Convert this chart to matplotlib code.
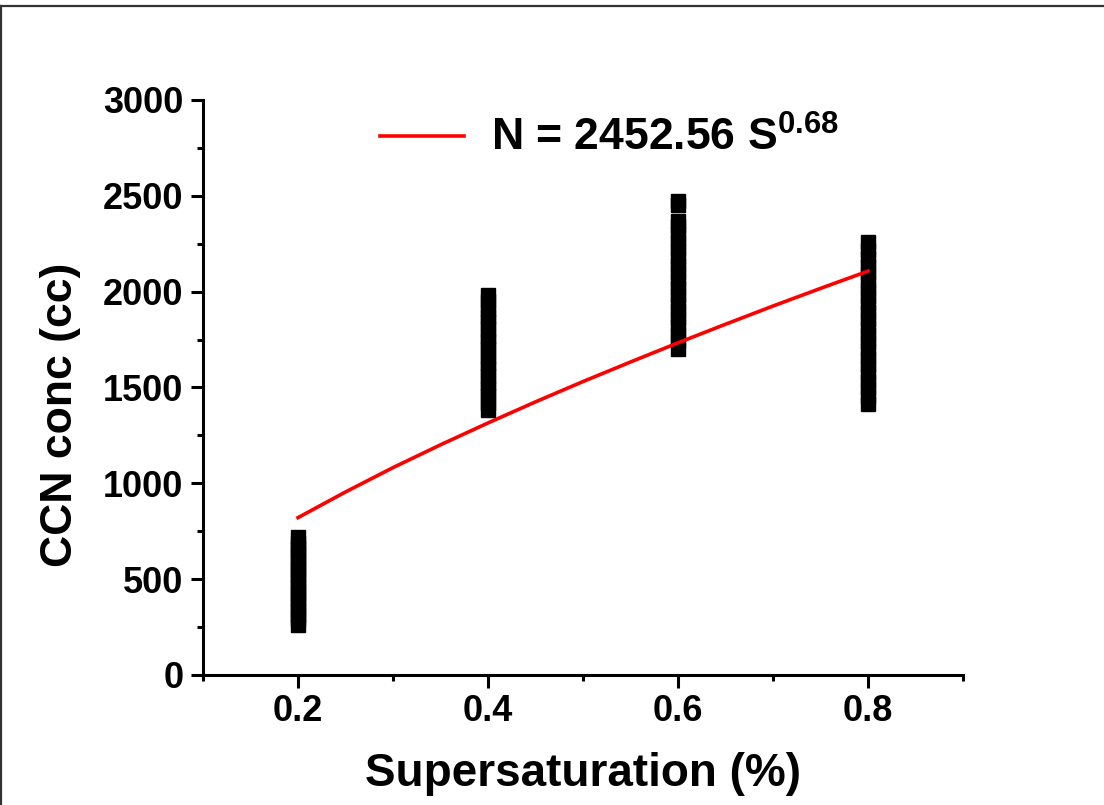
import matplotlib
matplotlib.use('Agg')
import matplotlib.pyplot as plt
from matplotlib.lines import Line2D
from matplotlib.ticker import MultipleLocator

plt.rcParams['font.family'] = 'Liberation Sans'
plt.rcParams['font.weight'] = 'bold'
plt.rcParams['mathtext.fontset'] = 'custom'
plt.rcParams['mathtext.rm'] = 'Liberation Sans:bold'
plt.rcParams['mathtext.bf'] = 'Liberation Sans:bold'
plt.rcParams['mathtext.default'] = 'bf'

# CCN measurements at each supersaturation (%)
ccn_02 = [262, 290, 315, 340, 365, 390, 415, 440, 465, 490, 515, 540, 565, 590, 615, 640, 665, 690, 718]
ccn_04 = [1385, 1420, 1455, 1490, 1525, 1560, 1595, 1630, 1665, 1700, 1735, 1770, 1805, 1840,
          1875, 1910, 1950, 1985]
ccn_06 = [1702, 1740, 1780, 1820, 1860, 1900, 1940, 1980, 2020, 2060, 2100, 2140, 2180, 2220,
          2260, 2300, 2340, 2370, 2452, 2473]
ccn_08 = [1415, 1455, 1495, 1535, 1575, 1615, 1655, 1695, 1735, 1775, 1815, 1855, 1895, 1935,
          1975, 2015, 2055, 2095, 2135, 2175, 2215, 2258]
ss_levels = [0.2, 0.4, 0.6, 0.8]

# power law fit curve
fit_s = [0.2, 0.25, 0.3, 0.35, 0.4, 0.45, 0.5, 0.55, 0.6, 0.65, 0.7, 0.75, 0.8]
fit_n = [821, 955, 1082, 1201, 1315, 1425, 1531, 1633, 1733, 1830, 1925, 2017, 2107]

fig = plt.figure(figsize=(11.04, 8.05), dpi=100)
ax = fig.add_axes([0.1839, 0.1615, 0.6884, 0.7143])

for s, vals in zip(ss_levels, [ccn_02, ccn_04, ccn_06, ccn_08]):
    ax.plot([s] * len(vals), vals, ls='none', marker='s', ms=10, color='k', mec='k', zorder=2)

ax.plot(fit_s, fit_n, color='red', lw=2.6, zorder=3, label='N = 2452.56 S$^{0.68}$')

ax.set_xlim(0.1, 0.9)
ax.set_ylim(0, 3000)
ax.xaxis.set_major_locator(MultipleLocator(0.2))
ax.xaxis.set_minor_locator(MultipleLocator(0.1))
ax.yaxis.set_major_locator(MultipleLocator(500))
ax.yaxis.set_minor_locator(MultipleLocator(250))
ax.set_xticks([0.2, 0.4, 0.6, 0.8])
ax.set_xticklabels(['0.2', '0.4', '0.6', '0.8'])

ax.spines['top'].set_visible(False)
ax.spines['right'].set_visible(False)
for sp in ['left', 'bottom']:
    ax.spines[sp].set_linewidth(2.2)
ax.tick_params(which='major', direction='out', length=9, width=2.2, labelsize=26)
ax.tick_params(axis='x', which='major', pad=5)
ax.tick_params(axis='y', which='major', pad=5)
ax.tick_params(which='minor', direction='out', length=4.5, width=2.2)

ax.set_xlabel('Supersaturation (%)', fontsize=33, fontweight='bold', labelpad=16)
ax.set_ylabel('CCN conc (cc)', fontsize=32, fontweight='bold')
ax.yaxis.set_label_coords(-0.161, 0.452)

leg = ax.legend(loc='upper left', bbox_to_anchor=(0.18, 1.04), frameon=False, fontsize=32,
                handlelength=1.9, handletextpad=0.6)
for h in leg.get_lines():
    h.set_linewidth(2.6)

# border around the figure (only top and left visible)
fig.add_artist(Line2D([0, 1], [1 - 6.5 / 805, 1 - 6.5 / 805], color='#333333', lw=1.6))
fig.add_artist(Line2D([1 / 1104, 1 / 1104], [0, 1 - 6.5 / 805], color='#333333', lw=1.6))

fig.savefig('out.png', dpi=100, facecolor='white')
